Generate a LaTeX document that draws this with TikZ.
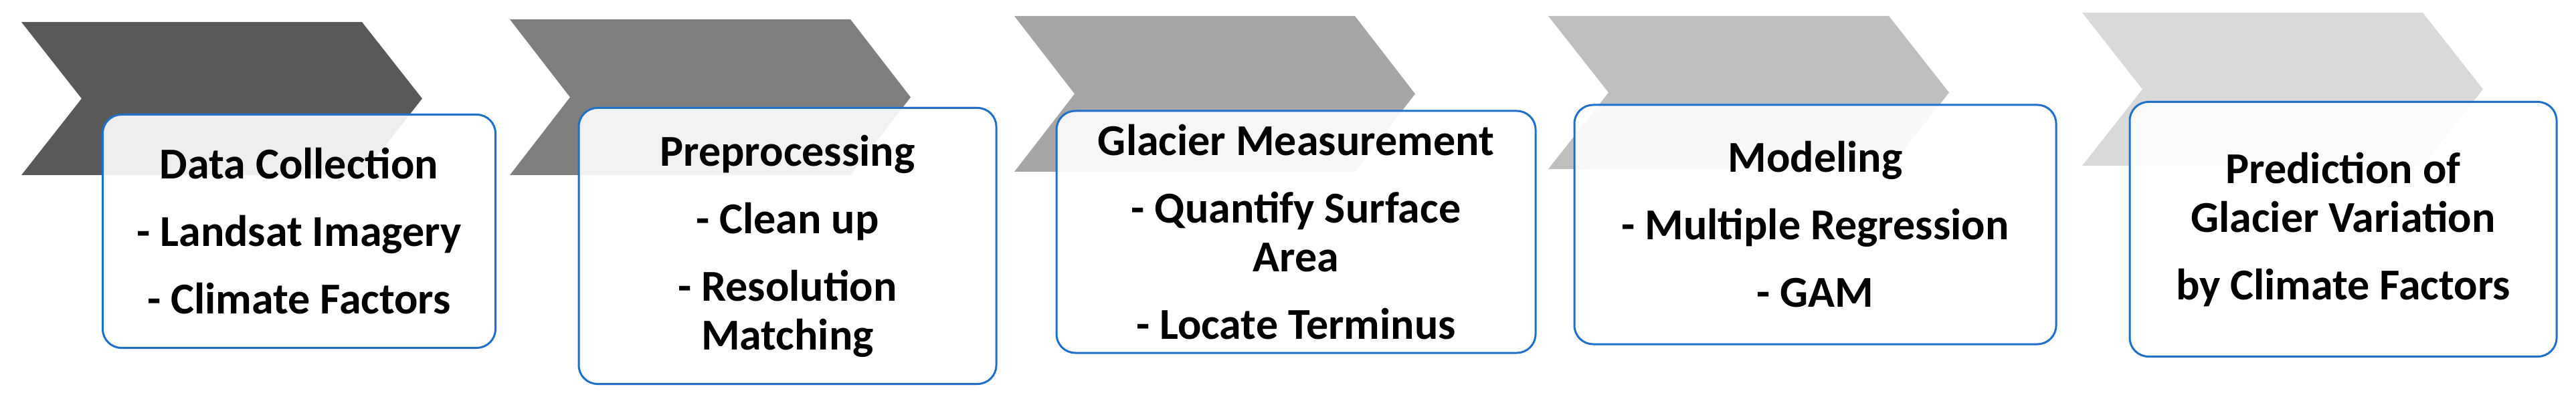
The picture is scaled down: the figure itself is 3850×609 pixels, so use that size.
\documentclass[tikz,border=0pt]{standalone}
\usepackage{fontspec}
\setmainfont{Carlito}
\usepackage{tikz}

\definecolor{boxblue}{RGB}{30,112,200}
\tikzset{
  stage/.style={draw=boxblue, line width=3pt, rounded corners=28pt,
    fill=white, fill opacity=0.9, text opacity=1, align=center,
    inner sep=0pt, font=\fontsize{66}{73}\selectfont\bfseries}
}

\begin{document}
\begin{tikzpicture}[x=1pt, y=-1pt]
    \useasboundingbox (0,0) rectangle (3850,609);
    \def\W{509}
    \def\D{90}
    \def\G{28pt}
    \foreach \L/\T/\B/\c in {32/33/262/595959, 762/29/262/7F7F7F, 1516/24/257/A6A6A6, 2314/24/253/BFBFBF, 3112/19/248/D9D9D9} {
      \definecolor{chev}{HTML}{\c}
      \fill[chev] (\L,\T) -- (\L+\W,\T) -- (\L+\W+\D,{(\T+\B)/2}) -- (\L+\W,\B)
        -- (\L,\B) -- (\L+\D,{(\T+\B)/2}) -- cycle;
    }
    \node[stage, minimum width=587pt, minimum height=349pt] (collect) at (447,346)
      {Data Collection\\[\G]- Landsat Imagery\\[\G]- Climate Factors};
    \node[stage, minimum width=624pt, minimum height=413pt] (prep) at (1177,368)
      {Preprocessing\\[\G]- Clean up\\[\G]- Resolution\\Matching};
    \node[stage, minimum width=716pt, minimum height=362pt] (measure) at (1937,347)
      {Glacier Measurement\\[\G]- Quantify Surface\\Area\\[\G]- Locate Terminus};
    \node[stage, minimum width=720pt, minimum height=358pt] (model) at (2713,336)
      {Modeling\\[\G]- Multiple Regression\\[\G]- GAM};
    \node[stage, minimum width=638pt, minimum height=381pt] (predict) at (3502,343)
      {Prediction of\\Glacier Variation\\[\G]by Climate Factors};
  \end{tikzpicture}
\end{document}
